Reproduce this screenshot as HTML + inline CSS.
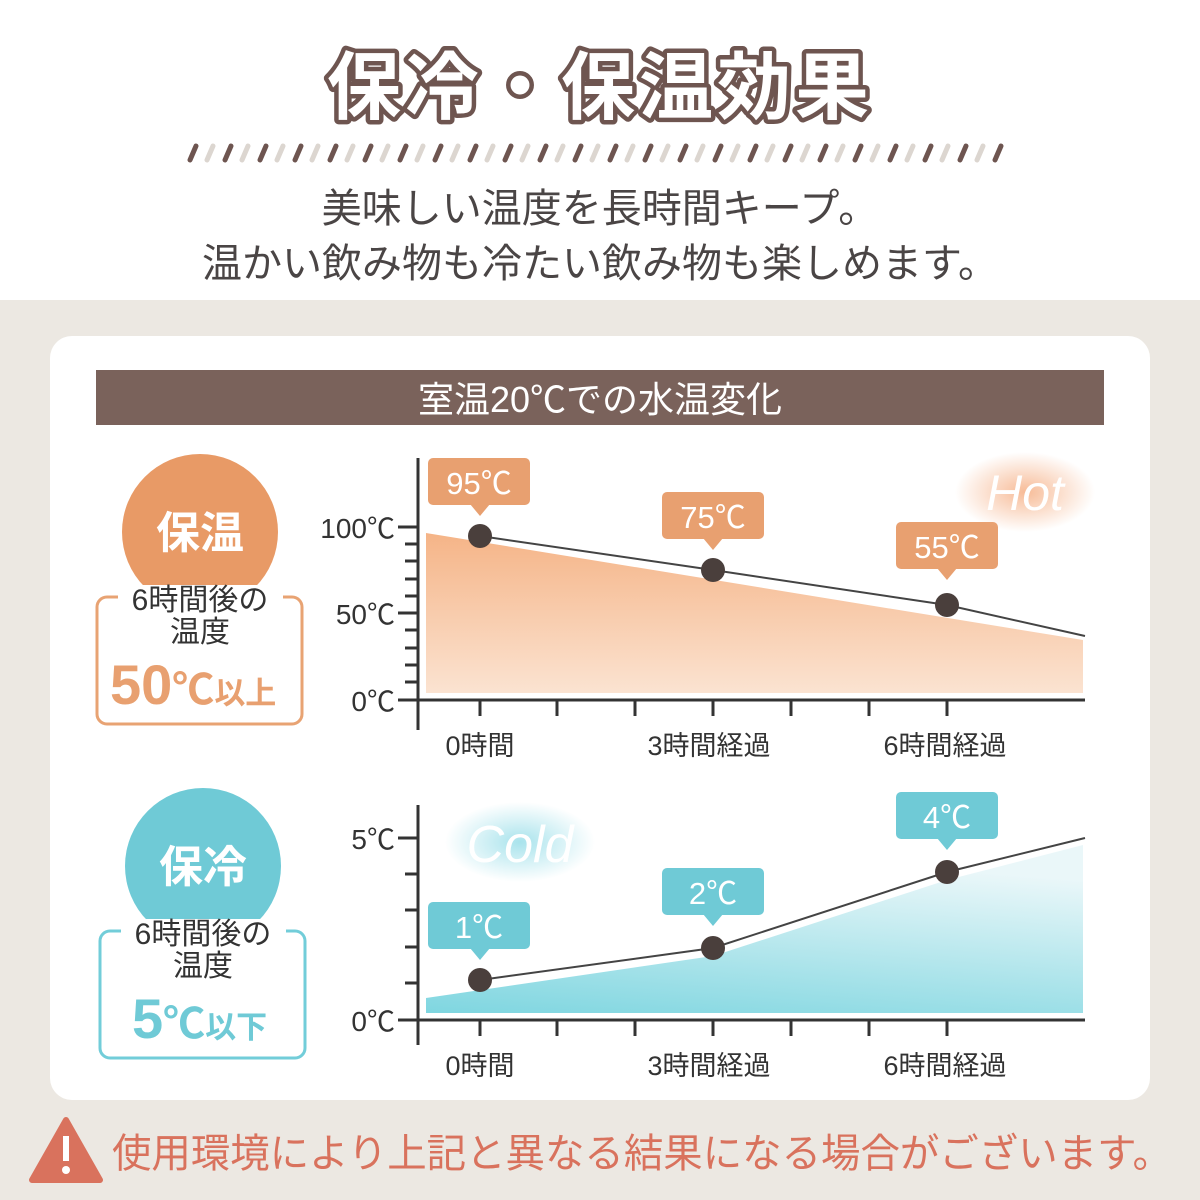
<!DOCTYPE html>
<html><head><meta charset="utf-8"><style>
html,body{margin:0;padding:0;width:1200px;height:1200px;overflow:hidden;background:#fff}
svg{display:block}
text{font-family:"Liberation Sans","Noto Sans CJK JP",sans-serif}
</style></head><body>
<svg width="1200" height="1200" viewBox="0 0 1200 1200" xmlns="http://www.w3.org/2000/svg">
<defs>
<linearGradient id="go" x1="0" y1="0" x2="0" y2="1"><stop offset="0" stop-color="#f5b487"/><stop offset="1" stop-color="#fbe3d1"/></linearGradient>
<linearGradient id="gc" x1="0" y1="1" x2="0.3" y2="0"><stop offset="0" stop-color="#7fd6e0"/><stop offset="1" stop-color="#eaf7f9"/></linearGradient>
<radialGradient id="hg"><stop offset="0" stop-color="#f6b48c" stop-opacity=".9"/><stop offset="1" stop-color="#f6b48c" stop-opacity="0"/></radialGradient>
<radialGradient id="cg"><stop offset="0" stop-color="#9fe0ea" stop-opacity=".9"/><stop offset="1" stop-color="#9fe0ea" stop-opacity="0"/></radialGradient>
</defs>
<rect x="0" y="300" width="1200" height="900" fill="#ece8e2"/>
<text x="600" y="113" text-anchor="middle" font-size="74" font-weight="bold" fill="#fff" stroke="#6e5550" stroke-width="9" paint-order="stroke" stroke-linejoin="round" letter-spacing="4">保冷・保温効果</text>
<text x="600" y="222" text-anchor="middle" font-size="40" fill="#4a4545">美味しい温度を長時間キープ。</text>
<text x="600" y="277" text-anchor="middle" font-size="40" fill="#4a4545">温かい飲み物も冷たい飲み物も楽しめます。</text>
<rect x="50" y="336" width="1100" height="764" rx="22" fill="#fff"/>
<rect x="96" y="370" width="1008" height="55" fill="#7a625b"/>
<text x="600" y="412" text-anchor="middle" font-size="36" fill="#fff">室温20℃での水温変化</text>

<!-- HOT -->
<circle cx="200" cy="532" r="78" fill="#e89a66"/>
<text x="200" y="548" text-anchor="middle" font-size="44" fill="#fff" font-weight="bold">保温</text>
<rect x="97" y="597" width="205" height="127" rx="10" fill="none" stroke="#e8a373" stroke-width="3"/>
<rect x="118" y="585" width="165" height="25" fill="#fff"/>
<text x="200" y="610" text-anchor="middle" font-size="30" fill="#333">6時間後の</text>
<text x="200" y="642" text-anchor="middle" font-size="30" fill="#333">温度</text>
<text x="110" y="704" font-size="56" font-weight="bold" fill="#e8a070">50<tspan font-size="42">℃</tspan><tspan font-size="31">以上</tspan></text>

<polygon points="426,533 1083,640 1083,693 426,693" fill="url(#go)"/>
<polyline points="480,536 713,570 947,605 1085,636" fill="none" stroke="#444" stroke-width="2"/>
<g stroke="#333" stroke-width="3">
<line x1="418" y1="458" x2="418" y2="730"/>
<line x1="398" y1="700" x2="1085" y2="700"/>
<line x1="398" y1="527" x2="418" y2="527"/><line x1="398" y1="613" x2="418" y2="613"/>
<line x1="405" y1="544" x2="418" y2="544"/><line x1="405" y1="561" x2="418" y2="561"/><line x1="405" y1="579" x2="418" y2="579"/><line x1="405" y1="596" x2="418" y2="596"/>
<line x1="405" y1="630" x2="418" y2="630"/><line x1="405" y1="648" x2="418" y2="648"/><line x1="405" y1="665" x2="418" y2="665"/><line x1="405" y1="682" x2="418" y2="682"/>
<line x1="480" y1="700" x2="480" y2="716"/><line x1="557" y1="700" x2="557" y2="716"/><line x1="635" y1="700" x2="635" y2="716"/><line x1="713" y1="700" x2="713" y2="716"/><line x1="791" y1="700" x2="791" y2="716"/><line x1="869" y1="700" x2="869" y2="716"/><line x1="947" y1="700" x2="947" y2="716"/>
</g>
<g font-size="28" fill="#333" text-anchor="end">
<text x="395" y="538">100℃</text><text x="395" y="624">50℃</text><text x="395" y="711">0℃</text>
</g>
<g font-size="27" fill="#333" text-anchor="middle">
<text x="480" y="755">0時間</text><text x="709" y="755">3時間経過</text><text x="945" y="755">6時間経過</text>
</g>
<g fill="#e8a070">
<rect x="428" y="458" width="102" height="47" rx="5"/><polygon points="470,504 490,504 480,516"/>
<rect x="662" y="492" width="102" height="47" rx="5"/><polygon points="703,538 723,538 713,550"/>
<rect x="896" y="522" width="102" height="47" rx="5"/><polygon points="937,568 957,568 947,580"/>
</g>
<g font-size="31" fill="#fff" text-anchor="middle">
<text x="479" y="494">95℃</text><text x="713" y="528">75℃</text><text x="947" y="558">55℃</text>
</g>
<g fill="#4a3f3c"><circle cx="480" cy="536" r="12"/><circle cx="713" cy="570" r="12"/><circle cx="947" cy="605" r="12"/></g>
<ellipse cx="1025" cy="492" rx="70" ry="40" fill="url(#hg)"/>
<text x="1025" y="510" text-anchor="middle" font-size="50" font-style="italic" fill="#fff" font-family="Liberation Serif,serif">Hot</text>

<!-- COLD -->
<circle cx="203" cy="866" r="78" fill="#6fcad6"/>
<text x="203" y="882" text-anchor="middle" font-size="44" fill="#fff" font-weight="bold">保冷</text>
<rect x="100" y="931" width="205" height="127" rx="10" fill="none" stroke="#72cdd9" stroke-width="3"/>
<rect x="121" y="919" width="165" height="25" fill="#fff"/>
<text x="203" y="944" text-anchor="middle" font-size="30" fill="#333">6時間後の</text>
<text x="203" y="976" text-anchor="middle" font-size="30" fill="#333">温度</text>
<text x="132" y="1038" font-size="56" font-weight="bold" fill="#6fcad6">5<tspan font-size="42">℃</tspan><tspan font-size="31">以下</tspan></text>

<polygon points="426,998 713,956 947,880 1083,845 1083,1013 426,1013" fill="url(#gc)"/>
<polyline points="480,980 713,948 947,872 1085,838" fill="none" stroke="#444" stroke-width="2"/>
<g stroke="#333" stroke-width="3">
<line x1="418" y1="805" x2="418" y2="1045"/>
<line x1="398" y1="1020" x2="1085" y2="1020"/>
<line x1="398" y1="838" x2="418" y2="838"/>
<line x1="405" y1="874" x2="418" y2="874"/><line x1="405" y1="910" x2="418" y2="910"/><line x1="405" y1="947" x2="418" y2="947"/><line x1="405" y1="983" x2="418" y2="983"/>
<line x1="480" y1="1020" x2="480" y2="1036"/><line x1="557" y1="1020" x2="557" y2="1036"/><line x1="635" y1="1020" x2="635" y2="1036"/><line x1="713" y1="1020" x2="713" y2="1036"/><line x1="791" y1="1020" x2="791" y2="1036"/><line x1="869" y1="1020" x2="869" y2="1036"/><line x1="947" y1="1020" x2="947" y2="1036"/>
</g>
<g font-size="28" fill="#333" text-anchor="end">
<text x="395" y="849">5℃</text><text x="395" y="1031">0℃</text>
</g>
<g font-size="27" fill="#333" text-anchor="middle">
<text x="480" y="1075">0時間</text><text x="709" y="1075">3時間経過</text><text x="945" y="1075">6時間経過</text>
</g>
<g fill="#6fcad6">
<rect x="428" y="902" width="102" height="47" rx="5"/><polygon points="470,948 490,948 480,960"/>
<rect x="662" y="868" width="102" height="47" rx="5"/><polygon points="703,914 723,914 713,926"/>
<rect x="896" y="792" width="102" height="47" rx="5"/><polygon points="937,838 957,838 947,850"/>
</g>
<g font-size="31" fill="#fff" text-anchor="middle">
<text x="479" y="938">1℃</text><text x="713" y="904">2℃</text><text x="947" y="828">4℃</text>
</g>
<g fill="#4a3f3c"><circle cx="480" cy="980" r="12"/><circle cx="713" cy="948" r="12"/><circle cx="947" cy="872" r="12"/></g>
<ellipse cx="520" cy="842" rx="75" ry="40" fill="url(#cg)"/>
<text x="520" y="862" text-anchor="middle" font-size="52" font-style="italic" fill="#fff" font-family="Liberation Serif,serif">Cold</text>

<!-- warning -->
<path d="M66,1120 L100,1180 L32,1180 Z" fill="#d9725d" stroke="#d9725d" stroke-width="6" stroke-linejoin="round"/>
<rect x="63" y="1136" width="6" height="25" fill="#fff"/><circle cx="66" cy="1170" r="4" fill="#fff"/>
<text x="112" y="1167" font-size="40" fill="#d9725d" textLength="1060" lengthAdjust="spacingAndGlyphs">使用環境により上記と異なる結果になる場合がございます。</text>

<!-- stripes -->
<g stroke-width="5" stroke-linecap="round">
<path stroke="#6e5550" d="M190,160l6,-14 M225,160l6,-14 M260,160l6,-14 M295,160l6,-14 M330,160l6,-14 M365,160l6,-14 M400,160l6,-14 M435,160l6,-14 M470,160l6,-14 M505,160l6,-14 M540,160l6,-14 M575,160l6,-14 M610,160l6,-14 M645,160l6,-14 M680,160l6,-14 M715,160l6,-14 M750,160l6,-14 M785,160l6,-14 M820,160l6,-14 M855,160l6,-14 M890,160l6,-14 M925,160l6,-14 M960,160l6,-14 M995,160l6,-14"/>
<path stroke="#dcd6d0" d="M207,160l6,-14 M242,160l6,-14 M277,160l6,-14 M312,160l6,-14 M347,160l6,-14 M382,160l6,-14 M417,160l6,-14 M452,160l6,-14 M487,160l6,-14 M522,160l6,-14 M557,160l6,-14 M592,160l6,-14 M627,160l6,-14 M662,160l6,-14 M697,160l6,-14 M732,160l6,-14 M767,160l6,-14 M802,160l6,-14 M837,160l6,-14 M872,160l6,-14 M907,160l6,-14 M942,160l6,-14 M977,160l6,-14"/>
</g>
</svg>
</body></html>
